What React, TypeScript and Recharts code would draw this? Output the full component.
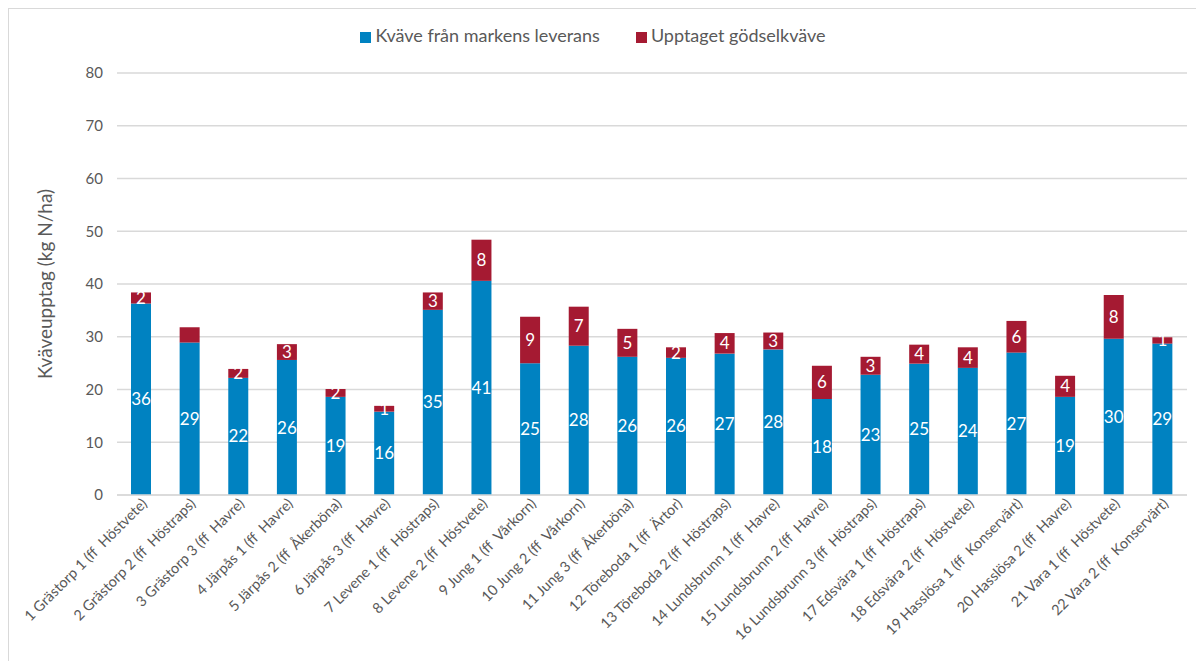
import React from 'react';
import { BarChart, Bar, XAxis, YAxis, CartesianGrid, Legend, LabelList, Label } from 'recharts';

const sites = [
  '1 Grästorp 1 (ff  Höstvete)',
  '2 Grästorp 2 (ff  Höstraps)',
  '3 Grästorp 3 (ff  Havre)',
  '4 Järpås 1 (ff  Havre)',
  '5 Järpås 2 (ff  Åkerböna)',
  '6 Järpås 3 (ff  Havre)',
  '7 Levene 1 (ff  Höstraps)',
  '8 Levene 2 (ff  Höstvete)',
  '9 Jung 1 (ff  Vårkorn)',
  '10 Jung 2 (ff  Vårkorn)',
  '11 Jung 3 (ff  Åkerböna)',
  '12 Töreboda 1 (ff  Ärtor)',
  '13 Töreboda 2 (ff  Höstraps)',
  '14 Lundsbrunn 1 (ff  Havre)',
  '15 Lundsbrunn 2 (ff  Havre)',
  '16 Lundsbrunn 3 (ff  Höstraps)',
  '17 Edsvära 1 (ff  Höstraps)',
  '18 Edsvära 2 (ff  Höstvete)',
  '19 Hasslösa 1 (ff  Konservärt)',
  '20 Hasslösa 2 (ff  Havre)',
  '21 Vara 1 (ff  Höstvete)',
  '22 Vara 2 (ff  Konservärt)',
];

// kg N/ha
const markNitrogen = [36.3, 28.9, 22.2, 25.6, 18.6, 15.8, 35.1, 40.6, 25.0, 28.3, 26.2, 26.0, 26.8, 27.6, 18.2, 22.8, 24.9, 24.1, 27.0, 18.6, 29.6, 28.7];
const fertNitrogen = [2.1, 2.9, 1.7, 3.0, 1.5, 1.1, 3.3, 7.8, 8.8, 7.4, 5.3, 2.0, 3.9, 3.2, 6.3, 3.4, 3.6, 3.9, 6.0, 4.0, 8.3, 1.2];
// the label on the second red segment is not shown in the original
const fertLabelShown = [true, false, true, true, true, true, true, true, true, true, true, true, true, true, true, true, true, true, true, true, true, true];

const yTicks = [0, 10, 20, 30, 40, 50, 60, 70, 80];

const data = sites.map((name, i) => ({
  name,
  mark: markNitrogen[i],
  fert: fertNitrogen[i],
  fertLabel: fertLabelShown[i] ? String(Math.round(fertNitrogen[i])) : '',
}));

const FONT = 'Lato, "Open Sans", sans-serif';
const GREY = '#595959';
const BLUE = '#0082C1';
const RED = '#A51A32';

const SiteTick = (props: any) => {
  const { x, y, payload } = props;
  return (
    <g transform={`translate(${x + 3},${y + 6})`}>
      <text
        x={0}
        y={0}
        dy="0.35em"
        textAnchor="end"
        transform="rotate(-45)"
        fill={GREY}
        fontSize={14.5}
        fontFamily={FONT}
        style={{ whiteSpace: 'pre' }}
      >
        {payload.value}
      </text>
    </g>
  );
};

const YTitle = (props: any) => {
  const { viewBox } = props;
  const cx = 35;
  const cy = viewBox.y + viewBox.height / 2;
  return (
    <text
      x={cx}
      y={cy}
      transform={`rotate(-90, ${cx}, ${cy})`}
      textAnchor="middle"
      dominantBaseline="central"
      fill={GREY}
      fontSize={19}
      fontFamily={FONT}
    >
      Kväveupptag (kg N/ha)
    </text>
  );
};

export default function App() {
  return (
    <div
      style={{
        width: 1195,
        height: 652,
        borderLeft: '1px solid #d9d9d9',
        borderTop: '1px solid #d9d9d9',
        background: '#fff',
      }}
    >
      <BarChart
        width={1195}
        height={652}
        data={data}
        margin={{ top: 64, right: 17, bottom: 0, left: 0 }}
        barSize={20}
      >
        <CartesianGrid vertical={false} stroke="#d9d9d9" strokeWidth={1.5} />
        <XAxis
          dataKey="name"
          interval={0}
          height={166}
          tickLine={false}
          tickSize={0}
          tickMargin={0}
          axisLine={{ stroke: '#d9d9d9', strokeWidth: 1.5 }}
          tick={<SiteTick />}
        />
        <YAxis
          width={108}
          domain={[0, 80]}
          ticks={yTicks}
          axisLine={false}
          tickLine={false}
          tickSize={6}
          tickMargin={8}
          tick={{ fill: GREY, fontSize: 15, fontFamily: FONT }}
        >
          <Label content={<YTitle />} />
        </YAxis>
        <Legend
          layout="horizontal"
          align="center"
          verticalAlign="middle"
          iconType="square"
          iconSize={11}
          wrapperStyle={{ top: 15, fontFamily: FONT, fontSize: 18 }}
          formatter={(value: string, entry: any, index: number) => (
            <span style={{ color: GREY, paddingRight: index === 0 ? 26 : 0 }}>{value}</span>
          )}
        />
        <Bar dataKey="mark" name="Kväve från markens leverans" stackId="n" fill={BLUE} isAnimationActive={false}>
          <LabelList
            dataKey="mark"
            position="center"
            formatter={(v: any) => String(Math.round(Number(v)))}
            fill="#ffffff"
            fontSize={17}
            fontFamily={FONT}
          />
        </Bar>
        <Bar dataKey="fert" name="Upptaget gödselkväve" stackId="n" fill={RED} isAnimationActive={false}>
          <LabelList dataKey="fertLabel" position="center" fill="#ffffff" fontSize={17} fontFamily={FONT} />
        </Bar>
      </BarChart>
    </div>
  );
}
